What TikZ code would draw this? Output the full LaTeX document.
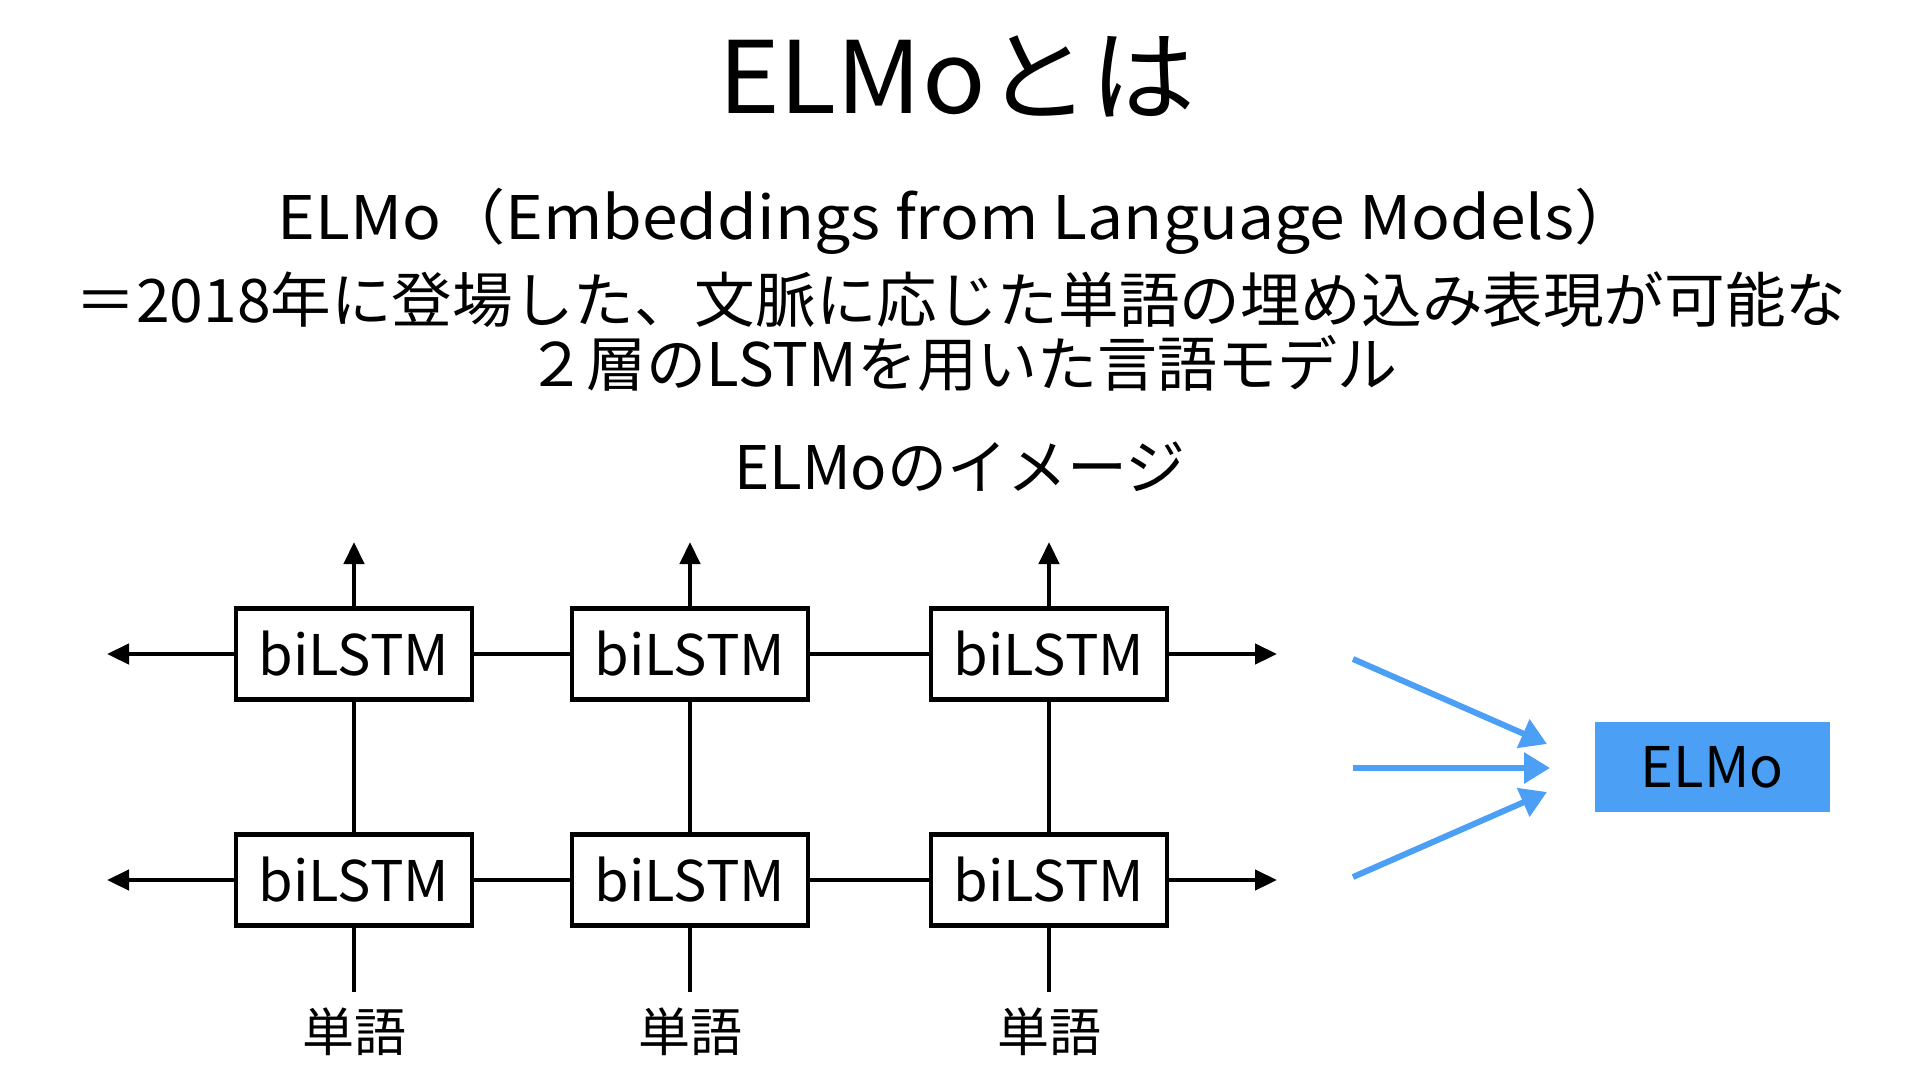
\documentclass[tikz,border=0pt]{standalone}
\usepackage{fontspec}
\setmainfont{Noto Sans CJK JP}
\usetikzlibrary{arrows.meta}
\definecolor{elmoblue}{HTML}{4B9FF5}
\tikzset{
  lstm/.style={draw=black, line width=4.5pt, minimum width=236pt, minimum height=91pt, inner sep=0pt, font=\fontsize{56}{60}\selectfont},
  conn/.style={line width=4.5pt, black},
  arr/.style={conn, -{Triangle[length=22pt,width=20pt]}},
  barr/.style={line width=6pt, elmoblue, -{Triangle[length=26pt,width=30pt]}},
  big/.style={font=\fontsize{60}{70}\selectfont, inner sep=0pt, anchor=base},
  word/.style={font=\fontsize{52}{60}\selectfont, inner sep=0pt},
}
\begin{document}
\begin{tikzpicture}[x=1pt,y=-1pt]
\useasboundingbox[fill=white] (0,0) rectangle (1920,1080);

% titles
\node[big, font=\fontsize{100}{110}\selectfont, xscale=1.05, transform shape] (title) at (957,113) {ELMoとは};
\node[big, xscale=1.07, transform shape] (sub1) at (958,239) {ELMo（Embeddings from Language Models）};
\node[big, xscale=1.01, transform shape] (sub2) at (961,322) {＝2018年に登場した、文脈に応じた単語の埋め込み表現が可能な};
\node[big] (sub3) at (962,386) {２層のLSTMを用いた言語モデル};
\node[big] (img) at (960,489) {ELMoのイメージ};

% boxes
\node[lstm] (t1) at (354,654) {biLSTM};
\node[lstm] (t2) at (690,654) {biLSTM};
\node[lstm] (t3) at (1049,654) {biLSTM};
\node[lstm] (b1) at (354,880) {biLSTM};
\node[lstm] (b2) at (690,880) {biLSTM};
\node[lstm] (b3) at (1049,880) {biLSTM};

% free ends
\coordinate (u1) at (354,542);
\coordinate (u2) at (690,542);
\coordinate (u3) at (1049,542);
\coordinate (lt) at (107,654);
\coordinate (lb) at (107,880);
\coordinate (rt) at (1277,654);
\coordinate (rb) at (1277,880);
\coordinate (d1) at (354,992);
\coordinate (d2) at (690,992);
\coordinate (d3) at (1049,992);

% word labels
\node[word] (w1) at (354,1032) {単語};
\node[word] (w2) at (690,1032) {単語};
\node[word] (w3) at (1049,1032) {単語};

% connectors
\draw[conn] (t1) -- (t2);
\draw[conn] (t2) -- (t3);
\draw[conn] (b1) -- (b2);
\draw[conn] (b2) -- (b3);
\draw[conn] (b1) -- (t1);
\draw[conn] (b2) -- (t2);
\draw[conn] (b3) -- (t3);
\draw[conn] (b1.south) -- (d1);
\draw[conn] (b2.south) -- (d2);
\draw[conn] (b3.south) -- (d3);
\draw[arr] (t1.north) -- (u1);
\draw[arr] (t2.north) -- (u2);
\draw[arr] (t3.north) -- (u3);
\draw[arr] (t1.west) -- (lt);
\draw[arr] (b1.west) -- (lb);
\draw[arr] (t3.east) -- (rt);
\draw[arr] (b3.east) -- (rb);

% ELMo
\node[fill=elmoblue, minimum width=235pt, minimum height=90pt, inner sep=0pt, font=\fontsize{56}{60}\selectfont] (elmo) at (1712,767) {ELMo};
\coordinate (s1) at (1353,659);
\coordinate (s2) at (1353,768);
\coordinate (s3) at (1353,877);
\coordinate (e1) at (1547,744);
\coordinate (e2) at (1550,768);
\coordinate (e3) at (1547,792);
\draw[barr] (s1) -- (e1);
\draw[barr] (s2) -- (e2);
\draw[barr] (s3) -- (e3);
\end{tikzpicture}
\end{document}
